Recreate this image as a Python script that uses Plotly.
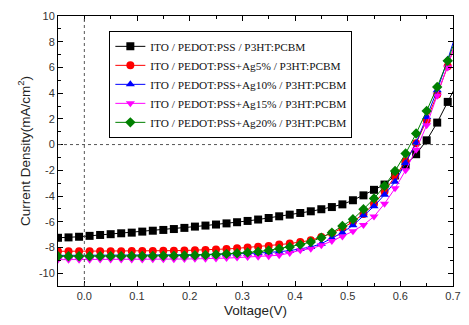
import plotly.graph_objects as go

voltage = [round(-0.05 + 0.02 * i, 2) for i in range(39)]  # -0.05 ... 0.71

ito_ref = [-7.25, -7.22, -7.17, -7.10, -7.03, -6.97, -6.90, -6.85, -6.77, -6.70,
           -6.64, -6.57, -6.48, -6.38, -6.30, -6.22, -6.13, -6.04, -5.94, -5.83,
           -5.71, -5.58, -5.45, -5.32, -5.19, -5.03, -4.86, -4.65, -4.33, -3.95,
           -3.52, -3.11, -2.40, -1.60, -0.75, 0.33, 1.71, 3.32, 4.90]
ag5 = [-8.30, -8.30, -8.30, -8.30, -8.30, -8.29, -8.29, -8.28, -8.28, -8.27,
       -8.26, -8.25, -8.24, -8.22, -8.20, -8.16, -8.12, -8.07, -8.01, -7.95,
       -7.89, -7.78, -7.70, -7.58, -7.45, -7.19, -6.90, -6.50, -6.00, -5.40,
       -4.60, -3.65, -2.45, -1.30, 0.10, 1.90, 3.90, 6.10, 8.60]
ag10 = [-8.62, -8.62, -8.62, -8.62, -8.61, -8.61, -8.61, -8.60, -8.60, -8.60,
        -8.59, -8.58, -8.57, -8.56, -8.55, -8.54, -8.52, -8.50, -8.47, -8.44,
        -8.40, -8.33, -8.25, -8.12, -7.97, -7.71, -7.27, -6.85, -6.28, -5.50,
        -4.80, -3.90, -2.90, -1.43, 0.13, 2.15, 4.23, 6.60, 9.20]
ag15 = [-8.95, -8.95, -8.95, -8.95, -8.94, -8.94, -8.94, -8.93, -8.93, -8.92,
        -8.92, -8.91, -8.90, -8.89, -8.88, -8.86, -8.83, -8.79, -8.75, -8.72,
        -8.69, -8.61, -8.43, -8.22, -8.10, -7.84, -7.50, -7.15, -6.75, -6.25,
        -5.60, -4.60, -3.40, -2.00, -0.40, 1.50, 3.80, 6.00, 8.50]
ag20 = [-8.69, -8.69, -8.69, -8.69, -8.68, -8.68, -8.68, -8.67, -8.67, -8.66,
        -8.65, -8.64, -8.63, -8.61, -8.59, -8.55, -8.50, -8.45, -8.40, -8.33,
        -8.23, -8.10, -7.97, -7.78, -7.58, -7.24, -6.85, -6.33, -5.81, -5.03,
        -4.20, -3.22, -2.05, -0.70, 0.86, 2.62, 4.48, 6.51, 8.80]

series_names = [
    "ITO / PEDOT:PSS / P3HT:PCBM",
    "ITO / PEDOT:PSS+Ag5% / P3HT:PCBM",
    "ITO / PEDOT:PSS+Ag10% / P3HT:PCBM",
    "ITO / PEDOT:PSS+Ag15% / P3HT:PCBM",
    "ITO / PEDOT:PSS+Ag20% / P3HT:PCBM",
]
series_values = [ito_ref, ag5, ag10, ag15, ag20]
colors = ["#000000", "#ff0000", "#0000ff", "#ff00ff", "#008000"]
symbols = ["square", "circle", "triangle-up", "triangle-down", "diamond"]

x_tickvals = [0.0, 0.1, 0.2, 0.3, 0.4, 0.5, 0.6, 0.7]
x_ticktext = ["0.0", "0.1", "0.2", "0.3", "0.4", "0.5", "0.6", "0.7"]
y_tickvals = [10, 8, 6, 4, 2, 0, -2, -4, -6, -8, -10]
y_ticktext = ["10", "8", "6", "4", "2", "0", "-2", "-4", "-6", "-8", "-10"]

fig = go.Figure()
for name, vals, c, s in zip(series_names, series_values, colors, symbols):
    fig.add_trace(go.Scatter(
        x=voltage, y=vals, name=name, mode="lines+markers",
        line=dict(color=c, width=1),
        marker=dict(symbol=s, color=c, size=8, line=dict(width=0)),
    ))

axis_common = dict(
    showline=True, linecolor="black", linewidth=1, mirror="allticks",
    ticks="inside", ticklen=5, tickwidth=1, tickcolor="black",
    showgrid=False, zeroline=False,
    tickfont=dict(family="Arial, Liberation Sans", size=11, color="#333333"),
    title_font=dict(family="Arial, Liberation Sans", size=13.5, color="#222222"),
)

fig.update_xaxes(
    range=[-0.05, 0.7], tickvals=x_tickvals, ticktext=x_ticktext,
    minor=dict(ticks="inside", ticklen=3, tickcolor="black", dtick=0.05, tick0=0),
    title_text="Voltage(V)", title_standoff=4, **axis_common,
)
fig.update_yaxes(
    range=[-11, 10], tickvals=y_tickvals, ticktext=y_ticktext,
    minor=dict(ticks="inside", ticklen=3, tickcolor="black", dtick=1, tick0=0),
    title_text="Current Density(mA/cm<sup>2</sup>)", title_standoff=5, **axis_common,
)

fig.add_shape(type="line", xref="x", yref="paper", x0=0, x1=0, y0=0, y1=1,
              line=dict(color="#555555", width=1, dash="dot"))
fig.add_shape(type="line", xref="paper", yref="y", x0=0, x1=1, y0=0, y1=0,
              line=dict(color="#555555", width=1, dash="dot"))

fig.update_layout(
    width=469, height=325,
    margin=dict(l=58, r=8, t=16, b=39),
    paper_bgcolor="white", plot_bgcolor="white",
    showlegend=True,
    legend=dict(
        x=0.13, y=0.945, xanchor="left", yanchor="top",
        bgcolor="white", bordercolor="black", borderwidth=1,
        font=dict(family="Liberation Serif, Times New Roman", size=11.3, color="#111111"),
        tracegroupgap=0, itemwidth=30,
    ),
)

fig.write_html("out.html", config={"displayModeBar": False},
               post_script="document.body.style.margin='0';document.body.style.padding='0';")
